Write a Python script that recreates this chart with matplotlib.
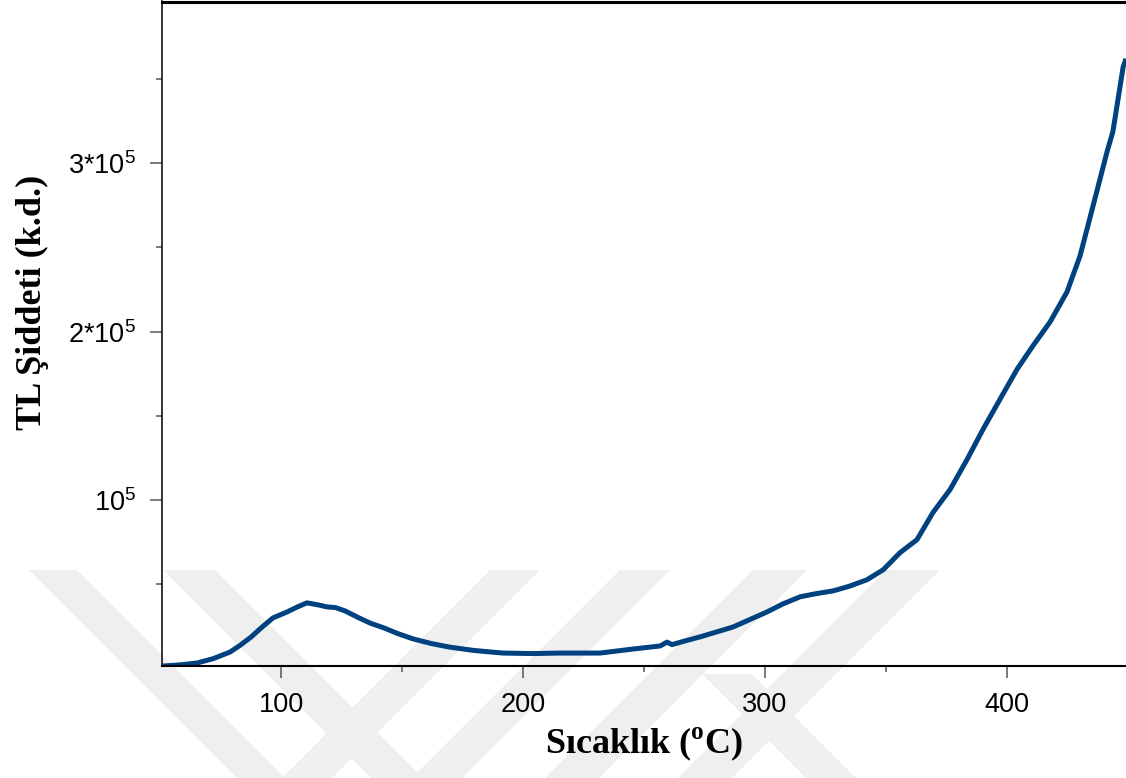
import matplotlib
matplotlib.use("Agg")
import matplotlib.pyplot as plt
from matplotlib.patches import Polygon
from matplotlib.ticker import FixedLocator, AutoMinorLocator
import numpy as np

plt.rcParams['mathtext.fontset'] = 'custom'
plt.rcParams['mathtext.rm'] = 'Liberation Serif:bold'
plt.rcParams['mathtext.sf'] = 'Liberation Sans'

# TL glow curve
sicaklik = [51.2, 58.2, 65.3, 72.0, 78.9, 83.0, 87.6, 92.0, 96.7, 102.5, 106.5, 110.7,
            115.0, 119.0, 122.5, 126.5, 132.2, 137.0, 142.6, 148.0, 154.6, 162.0,
            169.4, 180.0, 191.8, 204.2, 215.3, 231.9, 245.5, 256.7, 259.6, 261.6,
            267.0, 273.2, 280.0, 286.9, 293.5, 300.9, 307.5, 314.6, 321.0, 328.2,
            335.0, 342.2, 348.9, 355.9, 362.9, 369.5, 376.6, 383.6, 390.2, 397.2,
            404.3, 411.0, 417.9, 424.9, 430.3, 435.7, 441.5, 443.9, 448.1, 449.3]
siddet = [1600, 2300, 3400, 6000, 9900, 13800, 18800, 24500, 30200, 33700, 36500, 39100,
          38000, 36700, 36300, 34300, 30200, 27000, 24200, 21000, 17700, 15000,
          12900, 10800, 9300, 9000, 9300, 9300, 11700, 13500, 15800, 14300,
          16500, 18900, 21800, 24800, 29000, 33700, 38500, 42700, 44500, 46200,
          49000, 52800, 58700, 68900, 76600, 92700, 106400, 124200, 142100, 159900,
          177800, 192000, 205800, 223600, 245000, 274800, 307000, 318900, 357000, 362000]

x_ticks = [100, 200, 300, 400]
x_labels = ['100', '200', '300', '400']
y_ticks = [1e5, 2e5, 3e5]
y_labels = [r'10$^{\mathsf{5}}$', r'2*10$^{\mathsf{5}}$', r'3*10$^{\mathsf{5}}$']

W, H = 1126, 778
fig = plt.figure(figsize=(W / 100, H / 100), dpi=100)

# faint background watermark (chevron bands), in pixel coords
grey = '#efefef'
top, bot = 570, H
d = bot - top
bands = []
for x0, x1 in [(29, 77), (163, 215)]:
    bands.append([(x0, H - top), (x1, H - top), (x1 + d, H - bot), (x0 + d, H - bot)])
for x0, x1 in [(490, 540), (620, 670), (753, 807), (886, 940)]:
    bands.append([(x0, H - top), (x1, H - top), (x1 - d, H - bot), (x0 - d, H - bot)])
bands.append([(702, H - 674), (752, H - 674), (856, H - bot), (806, H - bot)])
for pts in bands:
    fig.patches.append(Polygon(pts, closed=True, transform=None, facecolor=grey,
                               edgecolor='none', zorder=-5))

ax = fig.add_axes([162 / W, (H - 665.7) / H, 1 - 162 / W, (665.7 - 1.5) / H])
ax.set_facecolor('none')

ax.plot(sicaklik, siddet, color='#00417f', lw=3.6, solid_capstyle='butt')

ax.set_xlim(50.8, 449.3)
ax.set_ylim(1800, 396000)

ax.xaxis.set_major_locator(FixedLocator(x_ticks))
ax.set_xticklabels(x_labels)
ax.xaxis.set_minor_locator(AutoMinorLocator(2))
ax.yaxis.set_major_locator(FixedLocator(y_ticks))
ax.set_yticklabels(y_labels)
ax.yaxis.set_minor_locator(FixedLocator([5e4, 1.5e5, 2.5e5, 3.5e5]))

ax.tick_params(which='both', direction='out', color='#555555', width=1.1,
               labelsize=19.5, labelcolor='black')
ax.tick_params(which='major', length=8.6)
ax.tick_params(which='minor', length=4.3)
ax.tick_params(axis='x', pad=10)
ax.tick_params(axis='y', pad=10)
for lab in ax.get_xticklabels() + ax.get_yticklabels():
    lab.set_family('Liberation Sans')

ax.spines['right'].set_visible(False)
ax.spines['top'].set_linewidth(2.2)
ax.spines['left'].set_linewidth(1.1)
ax.spines['bottom'].set_linewidth(1.5)

ax.set_xlabel(r'Sıcaklık ($^{\mathrm{o}}$C)', fontsize=26, fontweight='bold',
              family='Liberation Serif', labelpad=6)
ax.set_ylabel('TL Şiddeti (k.d.)', fontsize=26, fontweight='bold',
              family='Liberation Serif')
ax.yaxis.set_label_coords(-0.1176, 0.5476)

fig.savefig('out.png', dpi=100)
